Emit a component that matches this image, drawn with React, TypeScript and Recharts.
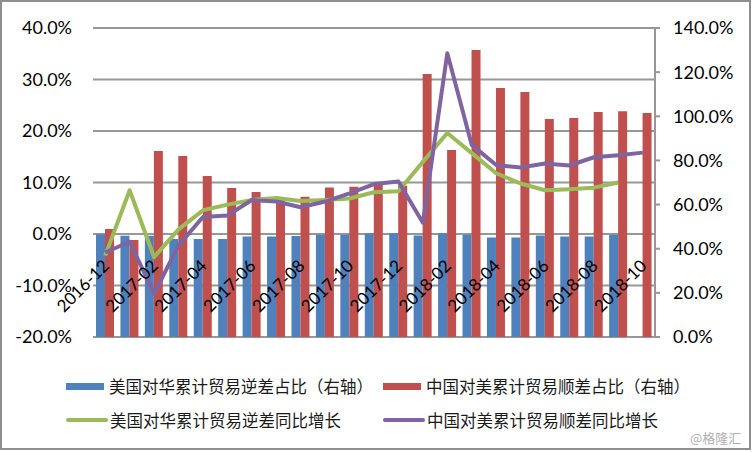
import React from "react";
import {
  ComposedChart,
  Bar,
  Line,
  XAxis,
  YAxis,
  CartesianGrid,
  Legend,
} from "recharts";

// months on the category axis
const months = [
  "2016-12",
  "2017-01", "2017-02", "2017-03", "2017-04", "2017-05", "2017-06",
  "2017-07", "2017-08", "2017-09", "2017-10", "2017-11", "2017-12",
  "2018-01", "2018-02", "2018-03", "2018-04", "2018-05", "2018-06",
  "2018-07", "2018-08", "2018-09", "2018-10",
];

// bars, right axis (%)
const usShare = [
  46.6, 45.9, 45.9, 44.4, 44.4, 44.4, 45.5, 45.5, 45.8, 46.3, 46.3, 47.0,
  47.0, 46.0, 47.0, 46.3, 45.1, 45.1, 46.0, 45.5, 45.5, 46.3, null,
];
const cnShare = [
  48.9, 43.9, 84.3, 82.0, 72.9, 67.5, 65.7, 62.1, 63.6, 67.7, 68.1, 68.9,
  68.5, 119.2, 84.7, 130.0, 112.8, 111.0, 98.8, 99.2, 101.9, 102.3, 101.5,
];

// lines, left axis (%)
const usYoy = [
  -4.2, 8.5, -4.5, 0.9, 4.6, 5.7, 6.6, 7.0, 6.4, 6.6, 6.9, 8.1,
  8.3, 14.0, 19.6, 15.7, 11.8, 9.8, 8.5, 8.7, 9.0, 10.0, null,
];
const cnYoy = [
  -3.6, -1.5, -11.6, -2.2, 3.3, 3.6, 6.6, 6.3, 5.2, 6.3, 7.9, 9.7,
  10.2, 2.2, 35.1, 17.3, 13.4, 12.9, 13.7, 13.3, 14.9, 15.3, 15.8,
];

const leftTicks = [-20, -10, 0, 10, 20, 30, 40];
const rightTicks = [0, 20, 40, 60, 80, 100, 120, 140];

const seriesNames = [
  "美国对华累计贸易逆差占比（右轴）",
  "中国对美累计贸易顺差占比（右轴）",
  "美国对华累计贸易逆差同比增长",
  "中国对美累计贸易顺差同比增长",
];
const seriesColors = ["#4F81BD", "#C0504D", "#9BBB59", "#8064A2"];

const data = months.map((m, i) => ({
  month: m,
  usShare: usShare[i],
  cnShare: cnShare[i],
  usYoy: usYoy[i],
  cnYoy: cnYoy[i],
}));

const W = 752;
const H = 452;
const TOP = 28;
const PLOT_H = 309;
const LEFT_MIN = leftTicks[0];
const LEFT_MAX = leftTicks[leftTicks.length - 1];
// y of the 0% line, where Excel hangs the month labels
const ZERO_Y = TOP + (PLOT_H * LEFT_MAX) / (LEFT_MAX - LEFT_MIN);

const tickFont = { fontFamily: "Lato, sans-serif", fontSize: 18, fill: "#000" };

const pct = (v: number) => `${v.toFixed(1)}%`;

const MonthTick = (props: any) => {
  const { x, payload } = props;
  const ax = x + 5;
  const ay = ZERO_Y + 33;
  return (
    <text
      x={ax}
      y={ay}
      transform={`rotate(-45 ${ax} ${ay})`}
      textAnchor="end"
      fontFamily="Lato, sans-serif"
      fontSize={17}
      fill="#000"
    >
      {payload.value}
    </text>
  );
};

const LegendBox = () => (
  <div
    style={{
      position: "relative",
      width: W,
      height: 93,
      fontFamily: '"Noto Sans CJK SC", sans-serif',
      fontSize: 16.5,
      color: "#1a1a1a",
    }}
  >
    {seriesNames.map((name, i) => {
      const col = i % 2;
      const row = Math.floor(i / 2);
      const isBar = i < 2;
      return (
        <div
          key={name}
          style={{
            position: "absolute",
            left: col === 0 ? 66 : 383,
            top: row === 0 ? 19 : 53,
            height: 20,
            display: "flex",
            alignItems: "center",
            whiteSpace: "nowrap",
          }}
        >
          <span
            style={{
              display: "inline-block",
              width: isBar ? 38 : 42,
              height: isBar ? 7 : 4,
              background: seriesColors[i],
              borderRadius: isBar ? 0 : 2,
              marginRight: isBar ? 5 : 2,
            }}
          />
          <span>{name}</span>
        </div>
      );
    })}
  </div>
);

export default function App() {
  return (
    <div
      style={{
        position: "absolute",
        left: 0,
        top: 0,
        width: W,
        height: H,
        background: "#fff",
      }}
    >
      <ComposedChart
        width={W}
        height={H}
        data={data}
        margin={{ top: TOP, right: 0, bottom: 2, left: 0 }}
        barSize={9}
        barGap={0}
      >
        <CartesianGrid
          yAxisId="left"
          vertical={false}
          stroke="#979797"
          strokeWidth={2}
        />
        <XAxis
          dataKey="month"
          interval={1}
          height={20}
          axisLine={false}
          tickLine={false}
          tick={<MonthTick />}
        />
        <YAxis
          yAxisId="left"
          width={93}
          domain={[LEFT_MIN, LEFT_MAX]}
          ticks={leftTicks}
          tickFormatter={pct}
          axisLine={false}
          tickLine={false}
          tickSize={0}
          tickMargin={21}
          tick={tickFont}
          interval={0}
        />
        <YAxis
          yAxisId="right"
          orientation="right"
          width={97}
          domain={[0, 140]}
          ticks={rightTicks}
          tickFormatter={pct}
          axisLine={{ stroke: "#979797", strokeWidth: 2 }}
          tickLine={{ stroke: "#979797", strokeWidth: 2 }}
          tickSize={5}
          tickMargin={13}
          tick={tickFont}
          interval={0}
        />
        <Legend
          verticalAlign="bottom"
          content={<LegendBox />}
          wrapperStyle={{ left: 0, width: W }}
        />
        <Bar
          yAxisId="right"
          dataKey="usShare"
          name={seriesNames[0]}
          fill={seriesColors[0]}
          isAnimationActive={false}
        />
        <Bar
          yAxisId="right"
          dataKey="cnShare"
          name={seriesNames[1]}
          fill={seriesColors[1]}
          isAnimationActive={false}
        />
        <Line
          yAxisId="left"
          dataKey="usYoy"
          name={seriesNames[2]}
          stroke={seriesColors[2]}
          strokeWidth={4}
          strokeLinejoin="round"
          dot={false}
          activeDot={false}
          isAnimationActive={false}
        />
        <Line
          yAxisId="left"
          dataKey="cnYoy"
          name={seriesNames[3]}
          stroke={seriesColors[3]}
          strokeWidth={4}
          strokeLinejoin="round"
          dot={false}
          activeDot={false}
          isAnimationActive={false}
        />
      </ComposedChart>
      <div
        style={{
          position: "absolute",
          left: 0,
          top: 0,
          width: 751,
          height: 450,
          boxSizing: "border-box",
          border: "2px solid #8e8e8e",
          pointerEvents: "none",
        }}
      />
      <div
        style={{
          position: "absolute",
          left: 690,
          top: 428,
          fontFamily: '"Noto Sans CJK SC", sans-serif',
          fontSize: 13,
          color: "#b0b0b0",
        }}
      >
        @格隆汇
      </div>
    </div>
  );
}
